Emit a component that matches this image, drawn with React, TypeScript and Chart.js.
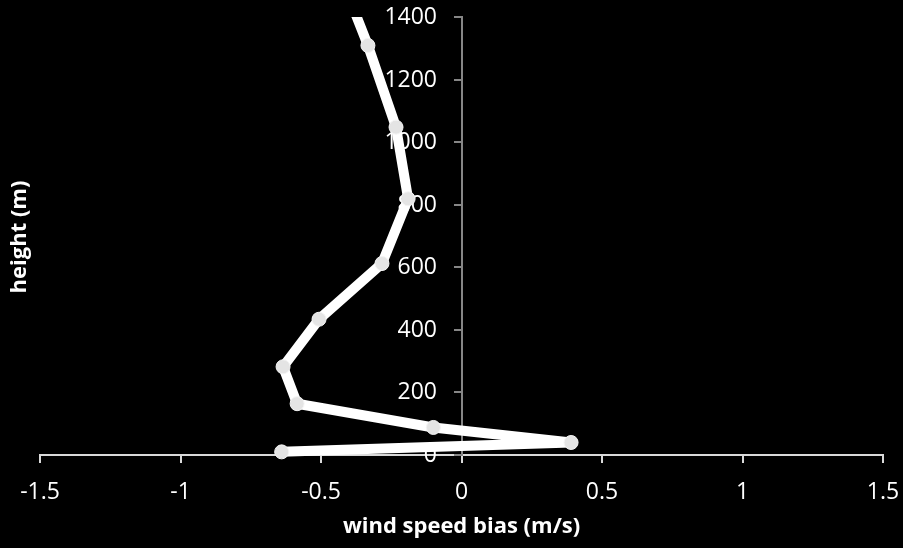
import React, { useEffect, useRef } from "react";
import { Chart, registerables } from "chart.js";

Chart.register(...registerables);

// Wind speed bias profile by height
const biasValues = [-0.64, 0.39, -0.1, -0.585, -0.635, -0.507, -0.283, -0.19, -0.233, -0.333, -0.46];
const heightValues = [10, 40, 88, 164, 282, 434, 612, 819, 1048, 1309, 1600];

const biasTicks = [-1.5, -1, -0.5, 0, 0.5, 1, 1.5];
const heightTicks = [0, 200, 400, 600, 800, 1000, 1200, 1400];

const xTitle = "wind speed bias (m/s)";
const yTitle = "height (m)";

const FONT = "'Open Sans', 'Liberation Sans', sans-serif";

// Axis labels: the height axis crosses at zero bias, so its labels and tick marks are drawn here
const axisLabels = {
  id: "axisLabels",
  beforeDatasetsDraw(chart: Chart) {
    const { ctx, chartArea } = chart;
    const xs = chart.scales.x;
    const ys = chart.scales.y;
    const axisX = Math.round(xs.getPixelForValue(0));
    ctx.save();
    ctx.strokeStyle = "#868686";
    ctx.lineWidth = 2;
    ctx.font = `23px ${FONT}`;
    ctx.fillStyle = "#ffffff";
    ctx.textAlign = "right";
    ctx.textBaseline = "middle";
    heightTicks.forEach((v) => {
      const y = Math.round(ys.getPixelForValue(v));
      ctx.beginPath();
      ctx.moveTo(axisX - 8, y);
      ctx.lineTo(axisX, y);
      ctx.stroke();
      ctx.fillText(String(v), axisX - 25, y);
    });
    ctx.textAlign = "center";
    biasTicks.forEach((v) => {
      ctx.fillText(String(v), xs.getPixelForValue(v), chartArea.bottom + 37);
    });
    ctx.restore();
  },
  afterDraw(chart: Chart) {
    const { ctx, chartArea } = chart;
    const xs = chart.scales.x;
    ctx.save();
    ctx.fillStyle = "#ffffff";
    ctx.font = `bold 22px ${FONT}`;
    ctx.textAlign = "center";
    ctx.textBaseline = "middle";
    ctx.fillText(xTitle, xs.getPixelForValue(0), 527);
    ctx.translate(20, (chartArea.top + chartArea.bottom) / 2 + 1);
    ctx.rotate(-Math.PI / 2);
    ctx.fillText(yTitle, 0, 0);
    ctx.restore();
  },
};

export default function App() {
  const ref = useRef<HTMLCanvasElement | null>(null);

  useEffect(() => {
    if (!ref.current) return;
    const points = biasValues.map((x, i) => ({ x, y: heightValues[i] }));
    const chart = new Chart(ref.current, {
      type: "scatter",
      data: {
        datasets: [
          {
            data: points,
            showLine: true,
            borderColor: "#ffffff",
            borderWidth: 10,
            pointRadius: 7,
            pointBackgroundColor: "#e4e4e4",
            pointBorderColor: "#f4f4f4",
            pointBorderWidth: 1,
            tension: 0,
            clip: { left: false, top: 0, right: false, bottom: false } as any,
          },
        ],
      },
      options: {
        animation: false,
        responsive: false,
        maintainAspectRatio: false,
        layout: { padding: { left: 40, right: 20, top: 17, bottom: 85 } },
        plugins: {
          legend: { display: false },
          tooltip: { enabled: false },
        },
        scales: {
          x: {
            type: "linear",
            min: -1.5,
            max: 1.5,
            ticks: { display: false, stepSize: 0.5 },
            grid: {
              drawOnChartArea: false,
              color: "#d9d9d9",
              tickLength: 8,
              lineWidth: 2,
            },
            border: { color: "#d9d9d9", width: 2 },
          },
          y: {
            type: "linear",
            min: 0,
            max: 1400,
            position: { x: 0 } as any,
            ticks: { display: false, stepSize: 200 },
            grid: { display: false },
            border: { color: "#868686", width: 2 },
          },
        },
      },
      plugins: [axisLabels],
    });
    return () => chart.destroy();
  }, []);

  return (
    <div style={{ position: "fixed", left: 0, top: 0, width: 903, height: 548, background: "#000000" }}>
      <canvas ref={ref} width={903} height={548} style={{ display: "block" }} />
    </div>
  );
}
